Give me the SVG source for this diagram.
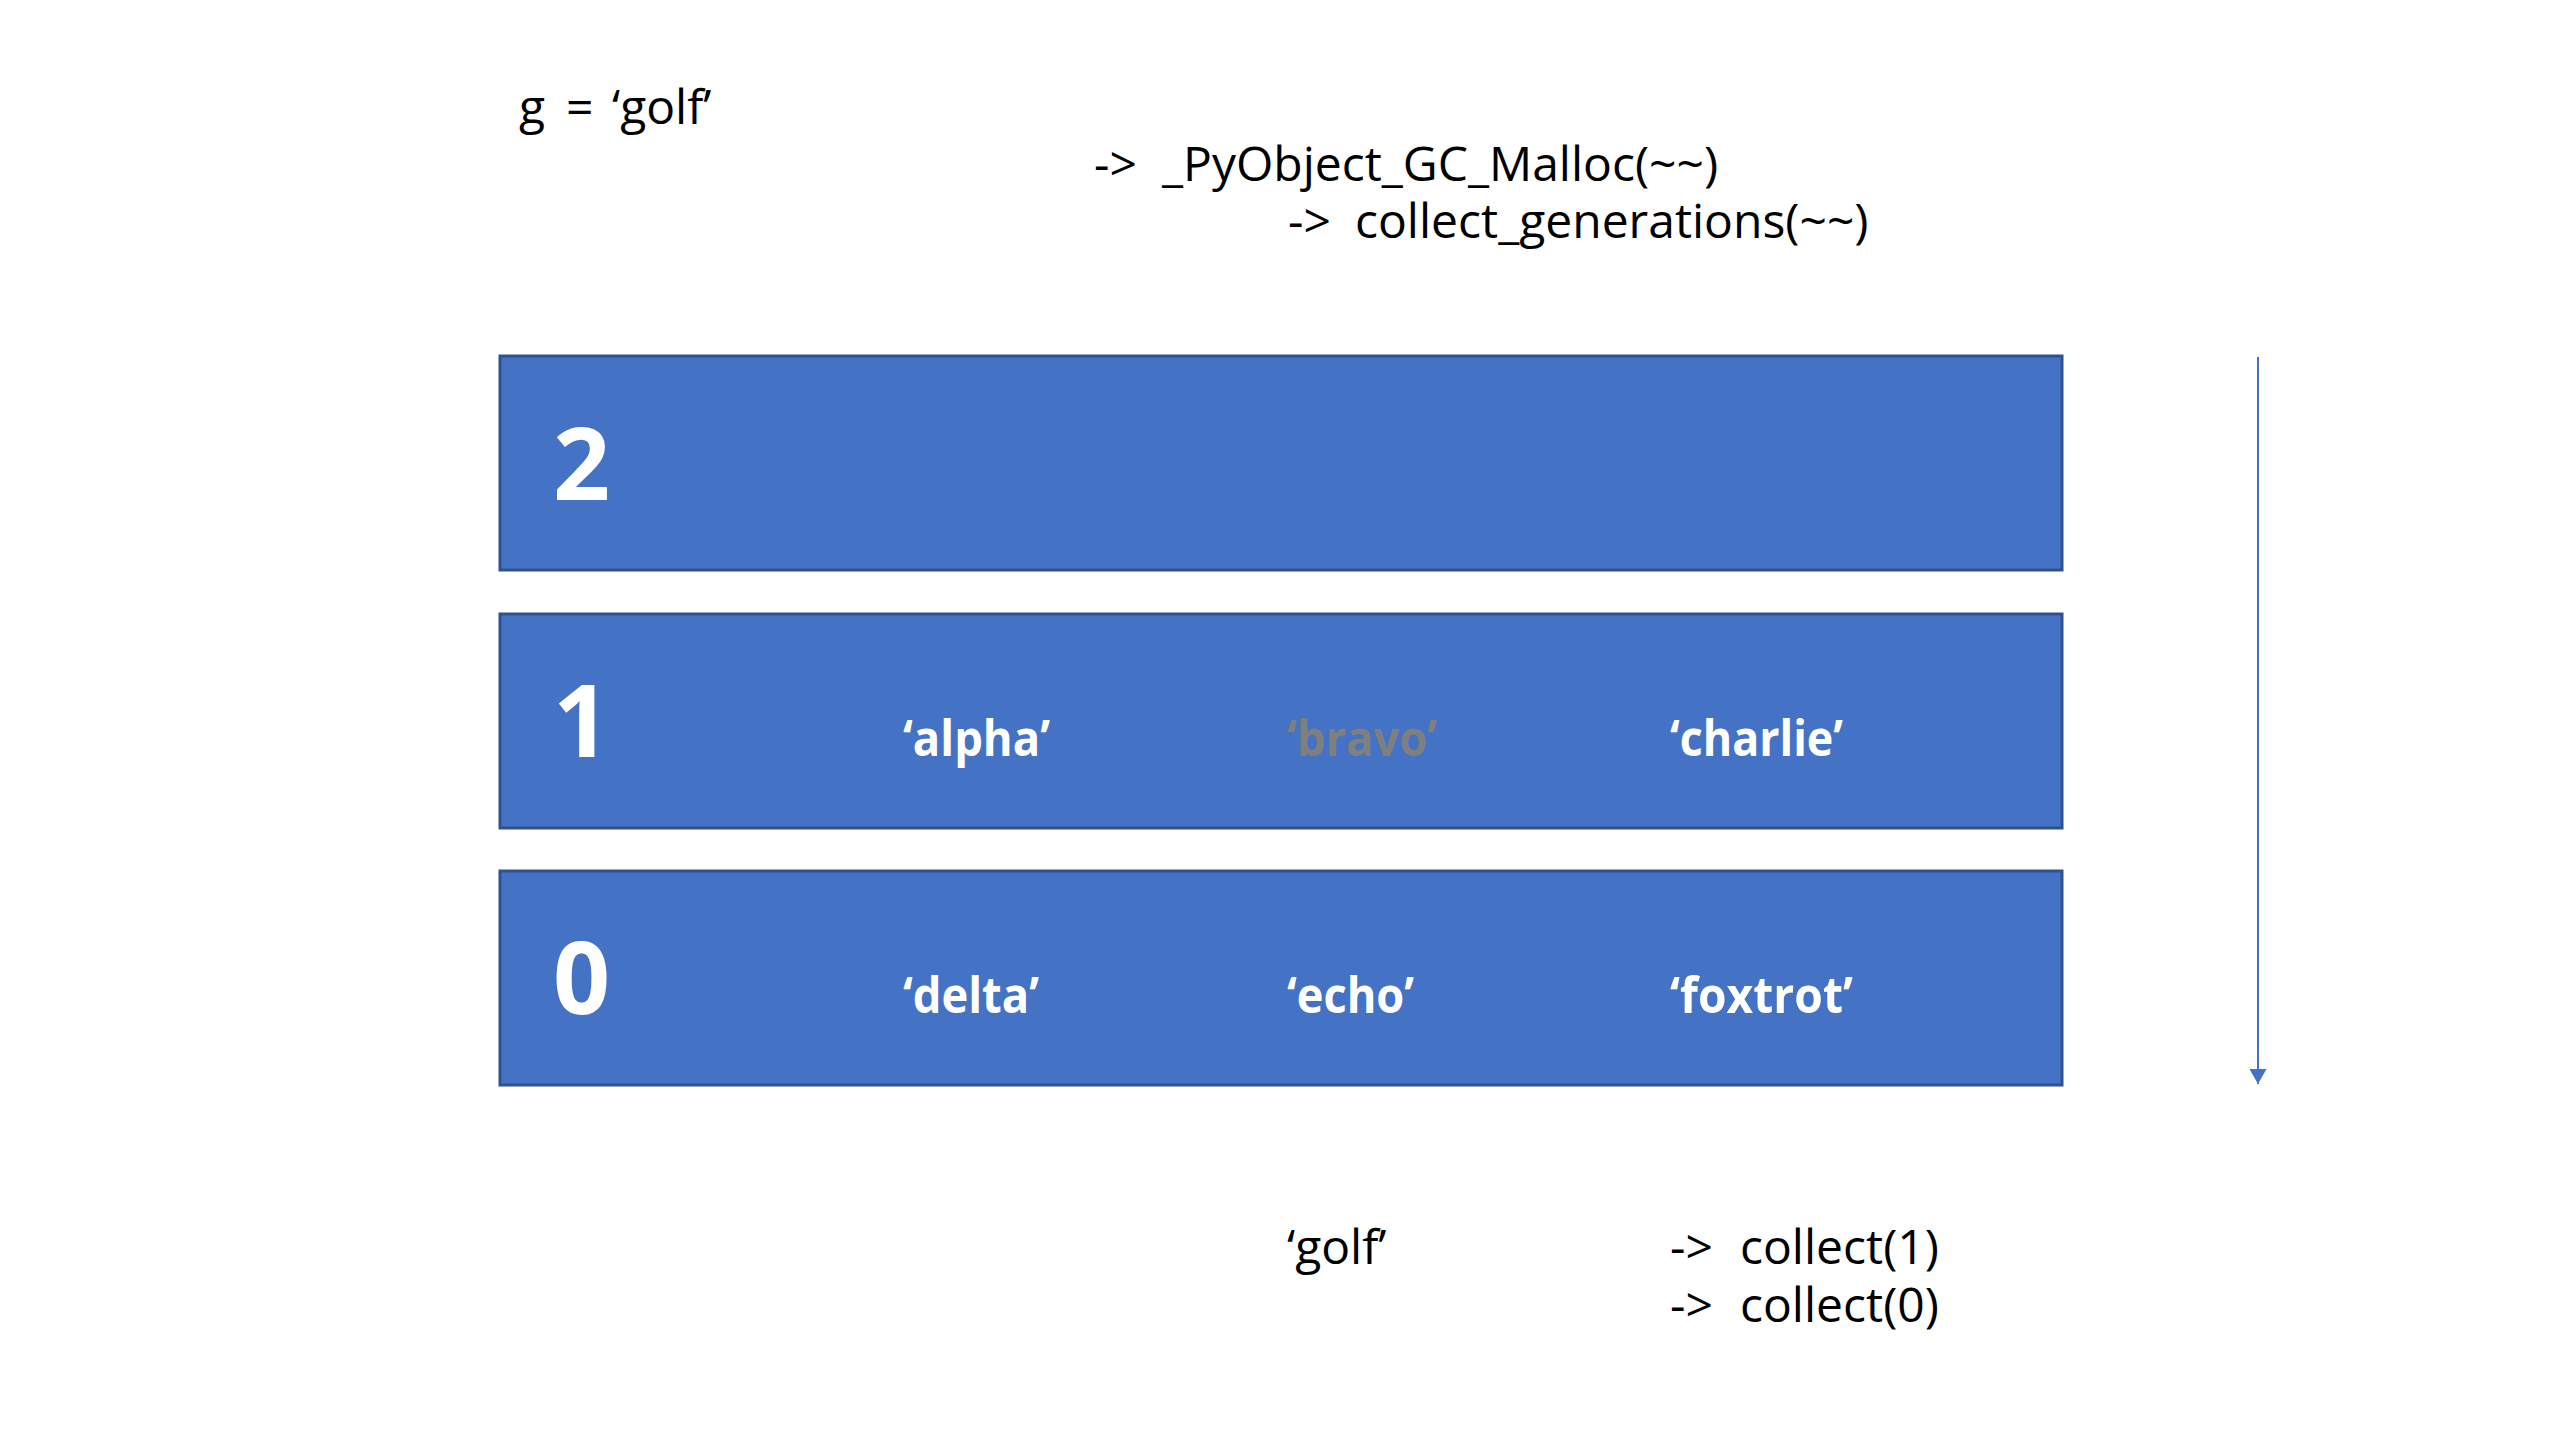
<svg xmlns="http://www.w3.org/2000/svg" width="2560" height="1440" viewBox="0 0 2560 1440">
<style>
.box{fill:#4472C4;stroke:#2F528F;stroke-width:3}
.num{font-family:"Open Sans","Noto Sans",sans-serif;font-weight:700;font-size:100px;fill:#fff}
.item{font-family:"Open Sans","Noto Sans",sans-serif;font-weight:700;font-size:50px;fill:#fff}
.gray{fill:#7F7F7F}
.code{font-family:"Open Sans","Noto Sans",sans-serif;font-size:48px;fill:#000}
</style>
<defs>
<marker id="ah" viewBox="0 0 10 10" refX="10" refY="5" markerWidth="15" markerHeight="17" orient="auto" markerUnits="userSpaceOnUse" preserveAspectRatio="none">
<path d="M0,0 L10,5 L0,10 z" fill="#4472C4"/>
</marker>
</defs>
<rect width="2560" height="1440" fill="#fff"/>
<g id="code-top">
<text class="code" y="124"><tspan x="519">g</tspan><tspan x="566">=</tspan><tspan x="612">‘golf’</tspan></text>
<text class="code" y="181"><tspan x="1094">-&gt;</tspan><tspan x="1162">_PyObject_GC_Malloc(~~)</tspan></text>
<text class="code" y="238"><tspan x="1288">-&gt;</tspan><tspan x="1355">collect_generations(~~)</tspan></text>
</g>
<g id="gen2">
<rect class="box" x="500" y="356" width="1562" height="214"/>
<text class="num" x="553" y="500">2</text>
</g>
<g id="gen1">
<rect class="box" x="500" y="614" width="1562" height="214"/>
<text class="num" x="553" y="757">1</text>
<text class="item" x="903" y="756" textLength="147" lengthAdjust="spacingAndGlyphs">‘alpha’</text>
<text class="item gray" x="1287" y="756" textLength="150" lengthAdjust="spacingAndGlyphs">‘bravo’</text>
<text class="item" x="1670" y="756" textLength="173" lengthAdjust="spacingAndGlyphs">‘charlie’</text>
</g>
<g id="gen0">
<rect class="box" x="500" y="871" width="1562" height="214"/>
<text class="num" x="553" y="1014">0</text>
<text class="item" x="903" y="1013" textLength="136" lengthAdjust="spacingAndGlyphs">‘delta’</text>
<text class="item" x="1287" y="1013" textLength="127" lengthAdjust="spacingAndGlyphs">‘echo’</text>
<text class="item" x="1670" y="1013" textLength="183" lengthAdjust="spacingAndGlyphs">‘foxtrot’</text>
</g>
<g id="code-bottom">
<text class="code" x="1287" y="1264">‘golf’</text>
<text class="code" y="1264"><tspan x="1670">-&gt;</tspan><tspan x="1740">collect(1)</tspan></text>
<text class="code" y="1322"><tspan x="1670">-&gt;</tspan><tspan x="1740">collect(0)</tspan></text>
</g>
<g id="connectors">
<line x1="2258" y1="357" x2="2258" y2="1084" stroke="#4472C4" stroke-width="2" marker-end="url(#ah)"/>
</g>
</svg>
